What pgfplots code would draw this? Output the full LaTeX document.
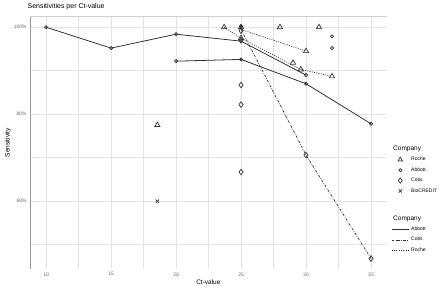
\documentclass[border=0pt]{standalone}
\usepackage{pgfplots}
\pgfplotsset{compat=1.18}
\usepackage{fontspec}
\setmainfont{Liberation Sans}
\definecolor{gridc}{HTML}{E3E3E3}
\definecolor{tickc}{HTML}{6B6B6B}
\definecolor{linec}{HTML}{333333}
\begin{document}
\begin{tikzpicture}
\draw[white, line width=0.3pt] (-30pt,-19pt) rectangle (410pt,268pt);
\begin{axis}[
  at={(0,0)}, anchor=south west,
  scale only axis, width=357pt, height=253pt,
  xmin=8.77, xmax=36.2, ymin=44.4, ymax=102.5,
  xtick={10,15,20,25,30,35},
  ytick={60,80,100}, yticklabels={60\%,80\%,100\%},
  minor xtick={12.5,17.5,22.5,27.5,32.5},
  minor ytick={50,70,90},
  grid=both,
  major grid style={gridc, line width=0.7pt},
  minor grid style={gridc, line width=0.5pt},
  axis line style={draw=none},
  tick style={draw=none},
  tick label style={font=\fontsize{5}{6}\selectfont, text=tickc},
  /pgf/number format/assume math mode=true,
  xlabel={Ct-value}, ylabel={Sensitivity},
  xlabel style={font=\fontsize{6.5}{7}\selectfont, yshift=3pt},
  ylabel style={font=\fontsize{6.5}{7}\selectfont, yshift=-4pt},
  title={Sensitivities per Ct-value},
  title style={font=\fontsize{7}{8}\selectfont, at={(0,1)}, anchor=south west, xshift=-6pt, yshift=-3pt},
  legend style={draw=none, fill=none, font=\fontsize{5}{6}\selectfont, at={(1.01,0.50)}, anchor=north west, row sep=1.3pt, inner sep=1pt},
  legend cell align=left,
  clip=false,
]
\draw[tickc!70, line width=0.7pt] (rel axis cs:0,0) -- (rel axis cs:0,1);
\draw[gridc!80!gray, line width=0.6pt] (rel axis cs:0,1) -- (rel axis cs:1,1);
% Abbott lines (solid)
\addplot[linec, line width=0.8pt, forget plot] coordinates {(10,100) (15,95.2) (20,98.4) (25,96.8) (30,89.0)};
\addplot[linec, line width=0.8pt, forget plot] coordinates {(20,92.2) (25,92.6) (30,87.0) (35,77.8)};
% Cotis line (dash-dot)
\addplot[linec, line width=0.7pt, dash pattern=on 2.5pt off 1.3pt on 0.6pt off 1.3pt, forget plot] coordinates {(25,99.5) (30,70.6) (35,46.8)};
% Roche lines (dotted)
\addplot[linec, line width=0.7pt, dash pattern=on 1pt off 1.3pt, forget plot] coordinates {(25,99.5) (30,94.5)};
\addplot[linec, line width=0.7pt, dash pattern=on 1pt off 1.3pt, forget plot] coordinates {(23.7,100) (25,97.5) (29.6,90.3) (32,88.7)};
% Roche points
\addplot[only marks, mark=triangle, mark size=3pt, mark options={linec, line width=0.7pt, fill=none}, forget plot] coordinates {(18.56,77.5) (23.7,100) (25,100) (28,100) (31,100) (30,94.5) (29,91.8) (29.6,90.3) (32,88.7) (25,97.5)};
% Abbott points
\addplot[only marks, mark=o, mark size=1.6pt, mark options={linec, line width=0.7pt, fill=white}, forget plot] coordinates {(10,100) (15,95.2) (20,98.4) (25,96.8) (30,89.0) (20,92.2) (25,92.6) (30,87.0) (35,77.8) (32,97.9) (32,95.2)};
\addplot[only marks, mark=*, mark size=1.9pt, mark options={linec, fill=linec}, forget plot] coordinates {(25,100.2)};
% Cotis points
\addplot[only marks, mark=diamond, mark size=2.8pt, mark options={linec, line width=0.7pt, fill=none}, forget plot] coordinates {(25,99.2) (25,97) (25,86.7) (25,82.2) (25,66.7) (30,70.6) (35,46.8)};
% BioCREDIT
\addplot[only marks, mark=x, mark size=2.4pt, mark options={linec, line width=0.7pt}, forget plot] coordinates {(18.56,60)};
% legend
\addlegendimage{empty legend}\addlegendentry{\hspace{-18pt}\fontsize{6.5}{7}\selectfont Company}
\addlegendimage{only marks, mark=triangle, mark size=2.6pt, mark options={linec, line width=0.7pt}}\addlegendentry{Roche}
\addlegendimage{only marks, mark=o, mark size=1.6pt, mark options={linec, line width=0.7pt}}\addlegendentry{Abbott}
\addlegendimage{only marks, mark=diamond, mark size=2.6pt, mark options={linec, line width=0.7pt}}\addlegendentry{Cotis}
\addlegendimage{only marks, mark=x, mark size=2.2pt, mark options={linec, line width=0.7pt}}\addlegendentry{BioCREDIT}
\addlegendimage{empty legend}\addlegendentry{\rule{0pt}{10pt}}
\addlegendimage{empty legend}\addlegendentry{\hspace{-18pt}\fontsize{6.5}{7}\selectfont Company}
\addlegendimage{linec, line width=0.8pt}\addlegendentry{Abbott}
\addlegendimage{linec, line width=0.7pt, dash pattern=on 2.5pt off 1.3pt on 0.6pt off 1.3pt}\addlegendentry{Cotis}
\addlegendimage{linec, line width=0.7pt, dash pattern=on 1pt off 1.3pt}\addlegendentry{Roche}
\end{axis}
\end{tikzpicture}
\end{document}
